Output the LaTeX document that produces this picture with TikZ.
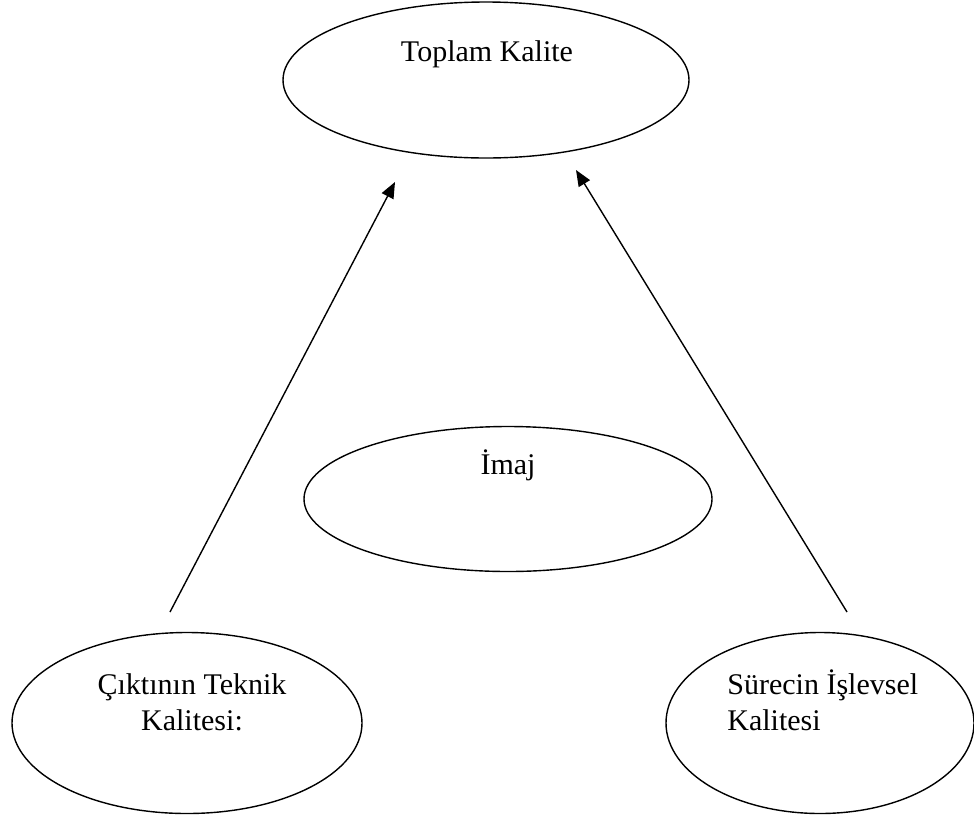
\documentclass[tikz,border=0pt]{standalone}
\usepackage{fontspec}
\setmainfont{Liberation Serif}
\usetikzlibrary{shapes.geometric,arrows.meta}
\begin{document}
\begin{tikzpicture}[x=0.5pt,y=-0.5pt,
  oval/.style={draw,ellipse,line width=0.7pt,inner sep=0pt},
  lbl/.style={inner sep=0pt,font=\fontsize{15}{18}\selectfont},
  link/.style={line width=0.7pt,-{Triangle[length=8pt,width=6.5pt]}}]
\useasboundingbox (0,0) rectangle (974,820);
% the four ovals
\node[oval,minimum width=203pt,minimum height=78pt]   (total)  at (486,80)  {};
\node[oval,minimum width=204pt,minimum height=72.5pt] (image)  at (508,499) {};
\node[oval,minimum width=175pt,minimum height=90.5pt] (tech)   at (187,723) {};
\node[oval,minimum width=154pt,minimum height=90.5pt] (func)   at (820,723) {};
% their texts (base anchor sits on the last line)
\node[lbl,anchor=base] (totaltxt) at (487,61) {Toplam Kalite};
\node[lbl,anchor=base] (imagetxt) at (508,474) {İmaj};
\node[lbl,anchor=base,align=center] (techtxt) at (192,730) {Çıktının Teknik\\Kalitesi:};
\node[lbl,anchor=base west,align=left] (functxt) at (727,730) {Sürecin İşlevsel\\Kalitesi};
% arrow ends
\coordinate (techfrom) at (170,612);
\coordinate (techto)   at (395,182);
\coordinate (funcfrom) at (847,612);
\coordinate (functo)   at (576,170);
\draw[link] (techfrom) -- (techto);
\draw[link] (funcfrom) -- (functo);
\end{tikzpicture}
\end{document}
